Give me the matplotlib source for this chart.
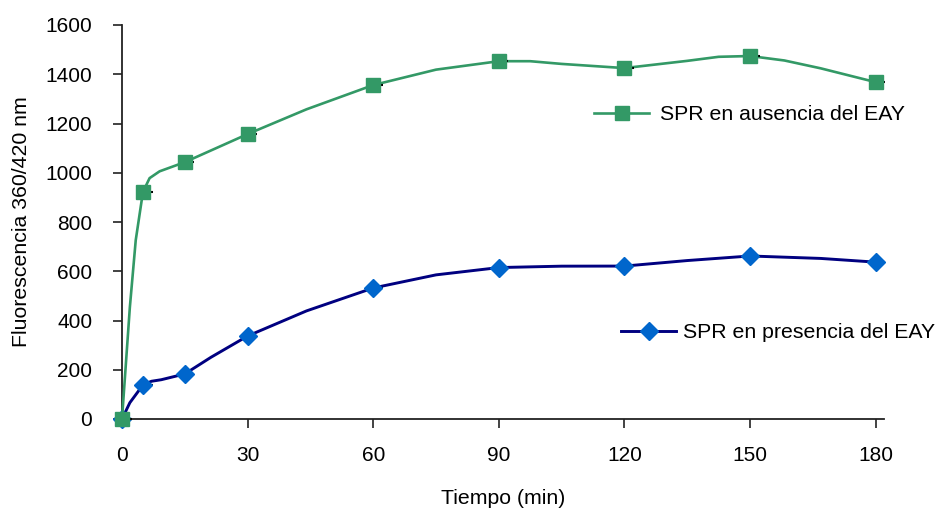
import numpy as np
import matplotlib
matplotlib.use("Agg")
import matplotlib.pyplot as plt

plt.rcParams['font.family'] = ['Liberation Sans', 'DejaVu Sans']

tiempo = [0, 5, 15, 30, 60, 90, 120, 150, 180]
ausencia = [0, 922, 1043, 1157, 1356, 1453, 1425, 1474, 1368]
presencia = [0, 138, 183, 337, 532, 615, 621, 662, 637]
err_x = 2.3

x_ticks = [0, 30, 60, 90, 120, 150, 180]
y_ticks = list(range(0, 1601, 200))

W, H = 938, 513
ax_l, ax_r, ax_t, ax_b = 122, 884, 25, 419   # pixels
fig = plt.figure(figsize=(W / 100, H / 100), dpi=100)
ax = fig.add_axes([ax_l / W, (H - ax_b) / H, (ax_r - ax_l) / W, (ax_b - ax_t) / H])
xmax, ymax = 182, 1600
ax.set_xlim(0, xmax)
ax.set_ylim(0, ymax)
sx = (ax_r - ax_l) / xmax
sy = (ax_b - ax_t) / ymax


def flatten(a, b, c, d, tol, out):
    # split bezier until it is flat enough, like the old GDI did
    ab = d - a
    L = np.hypot(*ab) + 1e-9
    e1 = abs(np.cross(ab, b - a)) / L
    e2 = abs(np.cross(ab, c - a)) / L
    if max(e1, e2) < tol:
        out.append(d)
        return
    ab1, bc, cd = (a + b) / 2, (b + c) / 2, (c + d) / 2
    abc, bcd = (ab1 + bc) / 2, (bc + cd) / 2
    m = (abc + bcd) / 2
    flatten(a, ab1, abc, m, tol, out)
    flatten(m, bcd, cd, d, tol, out)


def excel_smooth(x, y, tol=2.0):
    P = np.column_stack([np.asarray(x, float) * sx, np.asarray(y, float) * sy])
    n = len(P)
    pts = [P[0]]
    for i in range(n - 1):
        p0 = P[i - 1] if i > 0 else P[i]
        p1, p2 = P[i], P[i + 1]
        p3 = P[i + 2] if i + 2 < n else P[i + 1]
        d02 = np.hypot(*(p2 - p0))
        d12 = np.hypot(*(p2 - p1))
        d13 = np.hypot(*(p3 - p1))
        f0 = 1 / 6 if d02 / 6 < d12 / 2 else d12 / d02 / 2
        f1 = 1 / 6 if d13 / 6 < d12 / 2 else d12 / d13 / 2
        c1 = p1 + (p2 - p0) * f0
        c2 = p2 - (p3 - p1) * f1
        flatten(p1, c1, c2, p2, tol, pts)
    pts = np.array(pts)
    return pts[:, 0] / sx, pts[:, 1] / sy


verde = '#339966'
azul_l, azul_m = '#000080', '#0066CC'
ms_sq, ms_d = 10.5, 9.3

# blue first so the green square sits on top at the origin
series = [(presencia, azul_l, azul_m, 'D', ms_d, 2.1, 0),
          (ausencia, verde, verde, 's', ms_sq, 1.9, 10)]
for yv, lc, mc, mk, ms, lw, z in series:
    xs, ys = excel_smooth(tiempo, yv)
    ax.plot(xs, ys, color=lc, lw=lw, zorder=2 + z, clip_on=False)
    ax.errorbar(tiempo, yv, xerr=[[0] * len(tiempo), [err_x] * len(tiempo)], fmt='none',
                ecolor='black', elinewidth=1.5, zorder=3 + z, clip_on=False)
    ax.plot(tiempo, yv, ls='none', marker=mk, ms=ms, color=mc, mec=mc, zorder=4 + z, clip_on=False)

for s in ['top', 'right']:
    ax.spines[s].set_visible(False)
for s in ['left', 'bottom']:
    ax.spines[s].set_linewidth(1.3)
    ax.spines[s].set_color('#222222')
ax.set_xticks(x_ticks)
ax.set_yticks(y_ticks)
ax.tick_params(axis='both', direction='out', length=6.5, width=1.2, color='#222222', labelsize=15)
ax.tick_params(axis='y', pad=15)
ax.tick_params(axis='x', pad=13)

ax.set_ylabel('Fluorescencia 360/420 nm', fontsize=15.3, labelpad=10)
ax.set_xlabel('Tiempo (min)', fontsize=15.3, labelpad=17)

h1 = plt.Line2D([], [], color=verde, lw=1.9, marker='s', ms=ms_sq, mfc=verde, mec=verde)
h2 = plt.Line2D([], [], color=azul_l, lw=2.1, marker='D', ms=ms_d, mfc=azul_m, mec=azul_m)
fig.legend([h1], ['SPR en ausencia del EAY'], loc='center left',
           bbox_to_anchor=(575 / W, 1 - 115 / H), frameon=False,
           fontsize=15.3, handlelength=2.6, handletextpad=0.5)
fig.legend([h2], ['SPR en presencia del EAY'], loc='center left',
           bbox_to_anchor=(602 / W, 1 - 333 / H), frameon=False,
           fontsize=15.3, handlelength=2.6, handletextpad=0.3)

fig.savefig('out.png', dpi=100)
